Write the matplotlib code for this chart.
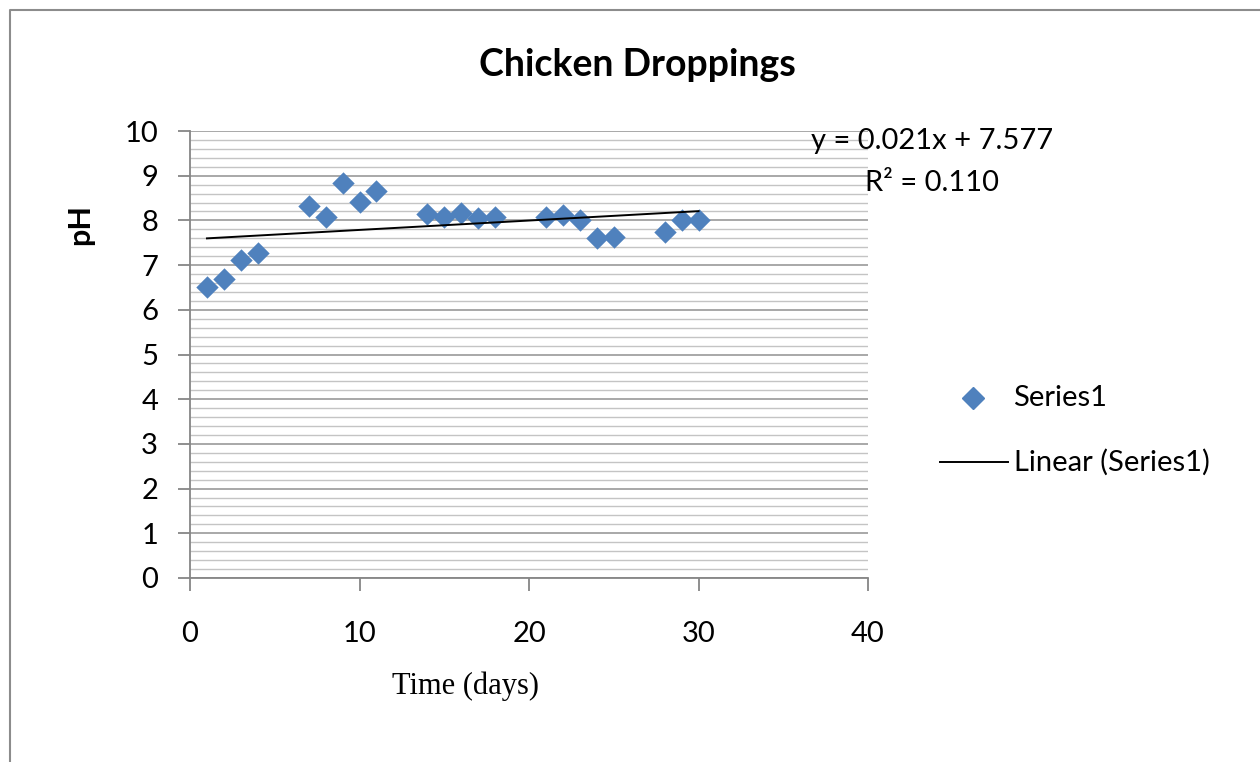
import numpy as np
import matplotlib
matplotlib.use("Agg")
import matplotlib.pyplot as plt
from matplotlib.lines import Line2D
from matplotlib.ticker import MultipleLocator

# day of sampling and measured pH
days = [1, 2, 3, 4, 7, 8, 9, 10, 11, 14, 15, 16, 17, 18, 21, 22, 23, 24, 25, 28, 29, 30]
ph = [6.52, 6.68, 7.11, 7.26, 8.32, 8.08, 8.84, 8.41, 8.66, 8.14, 8.08, 8.17, 8.05, 8.08,
      8.07, 8.12, 8.02, 7.60, 7.62, 7.75, 8.01, 8.02]
# trendline as reported on the chart
slope, intercept, r2 = 0.021, 7.577, 0.110

BLUE = "#4F81BD"
AXIS = "#868686"
SANS = "Lato"
FS = 21

fig = plt.figure(figsize=(12.6, 7.62), dpi=100)
ax = fig.add_axes([190 / 1260, 1 - 578 / 762, 678 / 1260, 447 / 762])

ax.set_xlim(0, 40)
ax.set_ylim(0, 10)
ax.xaxis.set_major_locator(MultipleLocator(10))
ax.yaxis.set_major_locator(MultipleLocator(1))
ax.yaxis.set_minor_locator(MultipleLocator(0.2))
ax.grid(True, which="major", axis="y", color="#9a9a9a", lw=1.2)
ax.grid(True, which="minor", axis="y", color="#c4c4c4", lw=1.0)
ax.set_axisbelow(True)
for s in ("top", "right"):
    ax.spines[s].set_visible(False)
for s in ("left", "bottom"):
    ax.spines[s].set_color(AXIS)
    ax.spines[s].set_linewidth(1.3)
ax.tick_params(which="major", direction="out", length=9, width=1.3, color=AXIS,
               labelsize=FS)
ax.tick_params(axis="y", pad=14)
ax.tick_params(axis="x", pad=22)
ax.tick_params(which="minor", length=0)
for lab in ax.get_xticklabels() + ax.get_yticklabels():
    lab.set_family(SANS)

ax.scatter(days, ph, marker="D", s=130, color=BLUE, zorder=3, lw=0)
xt = np.array([min(days), max(days)])
ax.plot(xt, slope * xt + intercept, color="black", lw=1.4, zorder=4)

fig.text(637 / 1260, 1 - 65 / 762, "Chicken Droppings", ha="center", va="center",
         fontsize=27, fontweight="bold", family=SANS)
fig.text(80 / 1260, 1 - 225 / 762, "pH", rotation=90, ha="center", va="center",
         fontsize=22, fontweight="bold", family=SANS)
fig.text(466 / 1260, 1 - 686 / 762, "Time (days)", ha="center", va="center",
         fontsize=22, family="Liberation Serif")
fig.text(932 / 1260, 1 - 141 / 762, f"y = {slope:.3f}x + {intercept:.3f}", ha="center",
         va="center", fontsize=FS, family=SANS)
fig.text(932 / 1260, 1 - 183 / 762, f"R² = {r2:.3f}", ha="center", va="center",
         fontsize=FS, family=SANS)

# legend drawn by hand to match placement
fig.add_artist(Line2D([973 / 1260], [1 - 398 / 762], marker="D", ms=11, color=BLUE,
                      lw=0, transform=fig.transFigure))
fig.text(1013 / 1260, 1 - 398 / 762, "Series1", va="center", fontsize=FS, family=SANS)
fig.add_artist(Line2D([940 / 1260, 1008 / 1260], [1 - 462 / 762] * 2, color="black",
                      lw=1.4, transform=fig.transFigure))
fig.text(1014 / 1260, 1 - 462 / 762, "Linear (Series1)", va="center", fontsize=FS,
         family=SANS)

# outer chart border
fig.add_artist(Line2D([10 / 1260, 10 / 1260, 1.0], [0, 1 - 10 / 762, 1 - 10 / 762],
                      color="#8c8c8c", lw=1.5, transform=fig.transFigure))

fig.savefig("out.png", dpi=100)
